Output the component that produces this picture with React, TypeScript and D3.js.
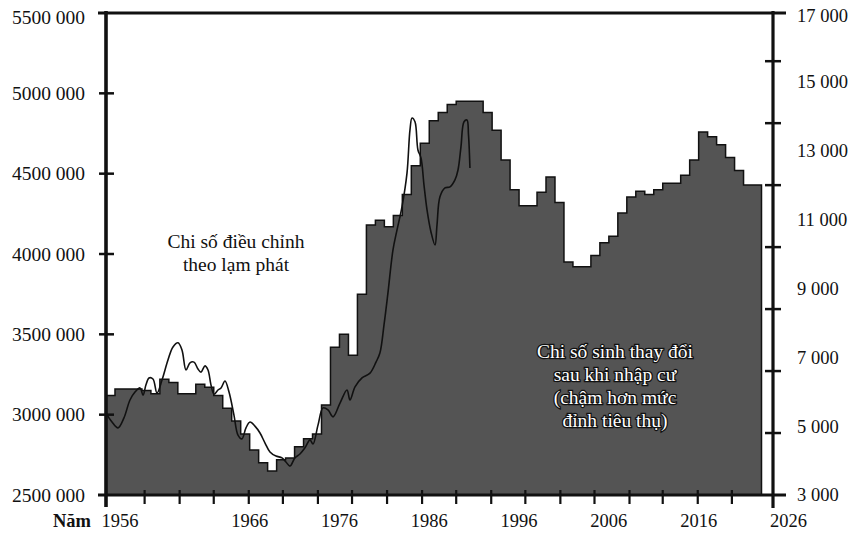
import React, { useEffect, useRef } from "react";
import * as d3 from "d3";

// births adjusted for immigration (left axis), one step per year
const birthYears = [
  1950, 1951, 1952, 1953, 1954, 1955, 1956, 1957, 1958, 1959,
  1960, 1961, 1962, 1963, 1964, 1965, 1966, 1967, 1968, 1969,
  1970, 1971, 1972, 1973, 1974, 1975, 1976, 1977, 1978, 1979,
  1980, 1981, 1982, 1983, 1984, 1985, 1986, 1987, 1988, 1989,
  1990, 1991, 1992, 1993, 1994, 1995, 1996, 1997, 1998, 1999,
  2000, 2001, 2002, 2003, 2004, 2005, 2006, 2007, 2008, 2009,
  2010, 2011, 2012, 2013, 2014, 2015, 2016, 2017, 2018, 2019,
  2020, 2021, 2022,
];
const birthValues = [
  3120000, 3160000, 3160000, 3160000, 3150000, 3130000, 3220000, 3200000, 3130000, 3130000,
  3190000, 3170000, 3120000, 3040000, 2960000, 2880000, 2780000, 2700000, 2650000, 2720000,
  2730000, 2800000, 2850000, 2880000, 3060000, 3420000, 3500000, 3370000, 3750000, 4180000,
  4210000, 4170000, 4240000, 4370000, 4550000, 4690000, 4830000, 4880000, 4930000, 4950000,
  4950000, 4950000, 4880000, 4770000, 4585000, 4400000, 4300000, 4300000, 4385000, 4480000,
  4320000, 3950000, 3920000, 3920000, 3990000, 4070000, 4110000, 4255000, 4355000, 4390000,
  4370000, 4400000, 4440000, 4440000, 4490000, 4585000, 4760000, 4730000, 4680000, 4600000,
  4520000, 4430000, 4430000,
];
const birthEndYear = 2023;

// inflation adjusted index (right axis)
const indexYears = [
  1950.0, 1950.67, 1951.34, 1952.0, 1952.67, 1953.23, 1953.79, 1954.12, 1954.45, 1954.79,
  1955.23, 1955.68, 1956.24, 1956.9, 1957.46, 1958.02, 1958.46, 1958.91, 1959.35, 1959.8,
  1960.24, 1960.58, 1961.02, 1961.36, 1961.69, 1962.03, 1962.47, 1962.81, 1963.25, 1963.7,
  1964.25, 1964.7, 1965.14, 1965.59, 1966.04, 1966.59, 1967.15, 1967.71, 1968.26, 1968.93,
  1969.6, 1970.04, 1970.49, 1971.05, 1971.6, 1972.16, 1972.72, 1973.05, 1973.61, 1974.17,
  1974.72, 1975.28, 1976.06, 1976.84, 1977.17, 1977.73, 1978.51, 1979.4, 1980.07, 1980.51,
  1980.96, 1981.4, 1981.96, 1982.41, 1982.96, 1983.52, 1983.85, 1984.08, 1984.41, 1984.74,
  1985.08, 1985.41, 1985.75, 1986.19, 1986.64, 1986.86, 1987.19, 1987.75, 1988.31, 1988.86,
  1989.2, 1989.53, 1989.87, 1990.2, 1990.37, 1990.53,
];
const indexValues = [
  5380, 5120, 4950, 5240, 5760, 5990, 6110, 5900, 6200, 6400,
  6370, 5960, 6340, 6920, 7300, 7420, 7210, 6630, 6840, 6860,
  6660, 6570, 6750, 6630, 6200, 5930, 6050, 6110, 6310, 5990,
  5320, 4740, 4630, 4950, 5120, 5000, 4800, 4510, 4250, 4130,
  4080, 3960, 3840, 4080, 4190, 4370, 4600, 4480, 5030, 5530,
  5470, 5270, 5670, 6050, 5760, 6140, 6400, 6540, 6860, 7130,
  7940, 8870, 10120, 10700, 11370, 12350, 13600, 13950, 13840, 13020,
  12790, 12010, 11280, 10640, 10260, 10840, 11660, 11920, 11950, 12150,
  12440, 13110, 13840, 13890, 13460, 12500,
];

const leftTicks = [2500000, 3000000, 3500000, 4000000, 4500000, 5000000, 5500000];
const rightLabels = [3000, 5000, 7000, 9000, 11000, 13000, 15000, 17000];
const rightTicks = [4800, 6600, 8400, 10200, 12000, 13800, 15600];
const yearLabels = [1956, 1966, 1976, 1986, 1996, 2006, 2016, 2026];
const yearTicks = [
  1954.3, 1958.2, 1962, 1965.9, 1969.7, 1973.6, 1977.4, 1981.3, 1985.2,
  1989, 1992.9, 1996.7, 2000.6, 2004.4, 2008.3, 2012, 2015.9, 2019.7,
];

const annotationIndex = ["Chi số điều chỉnh", "theo lạm phát"];
const annotationBirths = ["Chi số sinh thay đổi", "sau khi nhập cư", "(chậm hơn mức", "đỉnh tiêu thụ)"];

const fmt = (v: number) => {
  const s = String(v);
  return s.length > 3 ? s.slice(0, -3) + " " + s.slice(-3) : s;
};

const SpendingChart = () => {
  const ref = useRef<HTMLDivElement>(null);

  useEffect(() => {
    const width = 851;
    const height = 534;
    const left = 106;
    const right = 773;
    const top = 13;
    const bottom = 495;
    const font = "'Liberation Serif', 'Times New Roman', serif";

    d3.select(ref.current).select("svg").remove();

    const svg = d3
      .select(ref.current)
      .append("svg")
      .attr("width", width)
      .attr("height", height)
      .style("display", "block")
      .style("background", "#fff");

    const x = d3.scaleLinear().domain([1950, 2024.28]).range([left, right]);
    const yLeft = d3.scaleLinear().domain([2500000, 5500000]).range([bottom, top]);
    const yRight = d3.scaleLinear().domain([3000, 17000]).range([bottom, top]);

    const births = birthYears.map((yr, i) => ({ yr, v: birthValues[i] }));
    births.push({ yr: birthEndYear, v: birthValues[birthValues.length - 1] });

    const area = d3
      .area<{ yr: number; v: number }>()
      .x((d) => x(d.yr))
      .y0(bottom)
      .y1((d) => yLeft(d.v))
      .curve(d3.curveStepAfter);

    svg.append("path")
      .datum(births)
      .attr("d", area)
      .attr("fill", "#545454")
      .attr("stroke", "#111")
      .attr("stroke-width", 1.5);

    const idx = indexYears.map((yr, i) => ({ yr, v: indexValues[i] }));
    const line = d3
      .line<{ yr: number; v: number }>()
      .x((d) => x(d.yr))
      .y((d) => yRight(d.v))
      .curve(d3.curveCatmullRom.alpha(0.5));

    svg.append("path")
      .datum(idx)
      .attr("d", line)
      .attr("fill", "none")
      .attr("stroke", "#111")
      .attr("stroke-width", 1.6);

    // frame
    const axis = svg.append("g").attr("stroke", "#111");
    axis.append("line").attr("x1", 98).attr("x2", 786).attr("y1", top).attr("y2", top).attr("stroke-width", 3.2);
    axis.append("line").attr("x1", 98).attr("x2", 786).attr("y1", bottom).attr("y2", bottom).attr("stroke-width", 3.2);
    axis.append("line").attr("x1", left).attr("x2", left).attr("y1", top - 2).attr("y2", 507).attr("stroke-width", 3.6);
    axis.append("line").attr("x1", right).attr("x2", right).attr("y1", top - 2).attr("y2", 508).attr("stroke-width", 3.2);

    axis.selectAll(".lt")
      .data(leftTicks.slice(1, -1))
      .enter()
      .append("line")
      .attr("x1", left - 7)
      .attr("x2", left + 8)
      .attr("y1", (d) => yLeft(d))
      .attr("y2", (d) => yLeft(d))
      .attr("stroke-width", 2.5);

    axis.selectAll(".rt")
      .data(rightTicks)
      .enter()
      .append("line")
      .attr("x1", right - 8)
      .attr("x2", right + 8)
      .attr("y1", (d) => yRight(d))
      .attr("y2", (d) => yRight(d))
      .attr("stroke-width", 2.5);

    axis.selectAll(".bt")
      .data(yearTicks)
      .enter()
      .append("line")
      .attr("x1", (d) => x(d))
      .attr("x2", (d) => x(d))
      .attr("y1", bottom - 5)
      .attr("y2", bottom + 9)
      .attr("stroke-width", 2.2);

    const txt = svg.append("g").attr("font-family", font).attr("fill", "#111");

    txt.selectAll(".ll")
      .data(leftTicks)
      .enter()
      .append("text")
      .attr("x", 85)
      .attr("y", (d) => yLeft(d) + (d === 5500000 ? 4 : 0))
      .attr("dy", "0.35em")
      .attr("text-anchor", "end")
      .attr("font-size", 19.5)
      .text((d) => fmt(d));

    txt.selectAll(".rl")
      .data(rightLabels)
      .enter()
      .append("text")
      .attr("x", 797)
      .attr("y", (d) => yRight(d) + (d === 17000 ? 3 : 0))
      .attr("dy", "0.35em")
      .attr("font-size", 18.5)
      .text((d) => fmt(d));

    // the first year label sits at the start of the axis in the source
    txt.selectAll(".yl")
      .data(yearLabels)
      .enter()
      .append("text")
      .attr("x", (d, i) => (i === 0 ? left + 14 : x(d)))
      .attr("y", 527)
      .attr("text-anchor", "middle")
      .attr("font-size", 18.5)
      .text((d) => d);

    txt.append("text")
      .attr("x", 72)
      .attr("y", 527)
      .attr("text-anchor", "middle")
      .attr("font-size", 18.5)
      .attr("font-weight", "bold")
      .text("Năm");

    txt.selectAll(".a1")
      .data(annotationIndex)
      .enter()
      .append("text")
      .attr("x", 236)
      .attr("y", (d, i) => 248 + i * 23)
      .attr("text-anchor", "middle")
      .attr("font-size", 19.5)
      .text((d) => d);

    txt.selectAll(".a2")
      .data(annotationBirths)
      .enter()
      .append("text")
      .attr("x", 615)
      .attr("y", (d, i) => 358 + i * 23)
      .attr("text-anchor", "middle")
      .attr("font-size", 19.5)
      .attr("fill", "#fff")
      .attr("stroke", "#111")
      .attr("stroke-width", 2.5)
      .attr("paint-order", "stroke")
      .text((d) => d);
  }, []);

  return <div ref={ref} style={{ position: "absolute", left: 0, top: 0 }}></div>;
};

export default function App() {
  return <SpendingChart />;
}
